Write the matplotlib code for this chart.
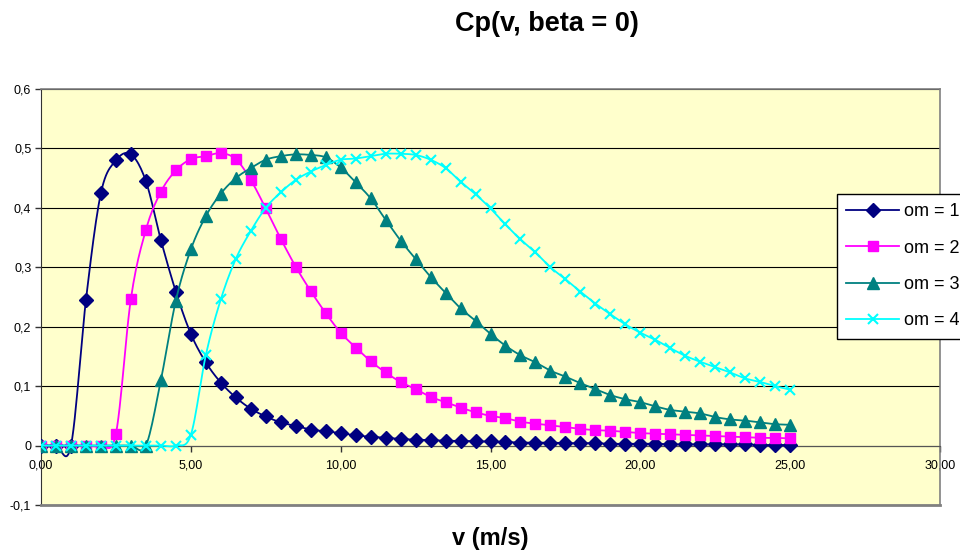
import numpy as np
import matplotlib
matplotlib.use("Agg")
import matplotlib.pyplot as plt
from matplotlib.lines import Line2D

plt.rcParams['font.family'] = ['Liberation Sans', 'DejaVu Sans']

# wind speed (m/s)
v = [0.0, 0.5, 1.0, 1.5, 2.0, 2.5, 3.0, 3.5, 4.0, 4.5,
     5.0, 5.5, 6.0, 6.5, 7.0, 7.5, 8.0, 8.5, 9.0, 9.5,
     10.0, 10.5, 11.0, 11.5, 12.0, 12.5, 13.0, 13.5, 14.0, 14.5,
     15.0, 15.5, 16.0, 16.5, 17.0, 17.5, 18.0, 18.5, 19.0, 19.5,
     20.0, 20.5, 21.0, 21.5, 22.0, 22.5, 23.0, 23.5, 24.0, 24.5,
     25.0]

cp_om1 = [0, 0, 0, 0.245, 0.425, 0.480, 0.490, 0.445, 0.346, 0.259,
          0.188, 0.140, 0.106, 0.081, 0.062, 0.049, 0.039, 0.033, 0.027, 0.024,
          0.021, 0.017, 0.015, 0.013, 0.011, 0.010, 0.009, 0.008, 0.008, 0.007,
          0.007, 0.006, 0.005, 0.005, 0.005, 0.004, 0.004, 0.004, 0.003, 0.003,
          0.003, 0.003, 0.002, 0.002, 0.002, 0.002, 0.002, 0.002, 0.001, 0.001,
          0.001]

cp_om2 = [0, 0, 0, 0, 0, 0.020, 0.247, 0.363, 0.427, 0.463,
          0.482, 0.487, 0.492, 0.482, 0.447, 0.399, 0.348, 0.301, 0.260, 0.223,
          0.190, 0.165, 0.142, 0.123, 0.107, 0.095, 0.082, 0.073, 0.064, 0.056,
          0.050, 0.046, 0.040, 0.037, 0.034, 0.031, 0.028, 0.026, 0.025, 0.023,
          0.021, 0.020, 0.019, 0.018, 0.017, 0.016, 0.015, 0.014, 0.013, 0.013,
          0.012]

cp_om3 = [0, 0, 0, 0, 0, 0, 0, 0, 0.110, 0.244,
          0.330, 0.386, 0.424, 0.450, 0.467, 0.481, 0.487, 0.490, 0.489, 0.485,
          0.468, 0.443, 0.416, 0.380, 0.345, 0.314, 0.284, 0.257, 0.231, 0.210,
          0.188, 0.168, 0.152, 0.140, 0.126, 0.116, 0.105, 0.095, 0.085, 0.078,
          0.073, 0.066, 0.060, 0.057, 0.054, 0.048, 0.044, 0.042, 0.039, 0.036,
          0.035]

cp_om4 = [0, 0, 0, 0, 0, 0, 0, 0, 0, 0,
          0.018, 0.152, 0.246, 0.314, 0.361, 0.400, 0.426, 0.447, 0.461, 0.472,
          0.481, 0.483, 0.487, 0.491, 0.491, 0.489, 0.481, 0.467, 0.444, 0.423,
          0.399, 0.372, 0.347, 0.325, 0.300, 0.280, 0.259, 0.239, 0.221, 0.204,
          0.190, 0.178, 0.164, 0.151, 0.141, 0.132, 0.123, 0.113, 0.107, 0.100,
          0.094]

labels = ['om = 1', 'om = 2', 'om = 3', 'om = 4']
xticks = [0, 5, 10, 15, 20, 25, 30]
yticks = [-0.1, 0, 0.1, 0.2, 0.3, 0.4, 0.5, 0.6]


def suavizar(x, y, n=12):
    # curva tipo "linea suavizada" de Excel (bezier con tension 1/6)
    x = np.asarray(x, float)
    y = np.asarray(y, float)
    px = np.concatenate([[x[0]], x, [x[-1]]])
    py = np.concatenate([[y[0]], y, [y[-1]]])
    t = np.linspace(0, 1, n, endpoint=False)
    xs, ys = [], []
    for i in range(len(x) - 1):
        p0 = np.array([px[i], py[i]])
        p1 = np.array([px[i + 1], py[i + 1]])
        p2 = np.array([px[i + 2], py[i + 2]])
        p3 = np.array([px[i + 3], py[i + 3]])
        c1 = p1 + (p2 - p0) / 6
        c2 = p2 - (p3 - p1) / 6
        b = ((1 - t) ** 3)[:, None] * p1 + (3 * (1 - t) ** 2 * t)[:, None] * c1 \
            + (3 * (1 - t) * t ** 2)[:, None] * c2 + (t ** 3)[:, None] * p2
        xs.extend(b[:, 0])
        ys.extend(b[:, 1])
    xs.append(x[-1])
    ys.append(y[-1])
    return np.array(xs), np.array(ys), list(range(0, len(xs), n))


fig = plt.figure(figsize=(9.6, 5.51), dpi=100)
ax = fig.add_axes([41 / 960, 46 / 551, 899 / 960, 416 / 551])
ax.set_facecolor('#FFFFCC')

estilos = [
    dict(color='#000080', marker='D', markersize=7),
    dict(color='#FF00FF', marker='s', markersize=6.5),
    dict(color='#008080', marker='^', markersize=8),
    dict(color='#00FFFF', marker='x', markersize=7.5, markeredgewidth=1.5),
]

series = [cp_om1, cp_om2, cp_om3, cp_om4]
handles = []
for cp, est, lab in zip(series, estilos, labels):
    xs, ys, cada = suavizar(v, cp)
    ax.plot(xs, ys, color=est['color'], lw=1.3, marker=est['marker'],
            markersize=est['markersize'], markevery=cada,
            markerfacecolor=est['color'], markeredgecolor=est['color'],
            markeredgewidth=est.get('markeredgewidth', 1), zorder=3)
    handles.append(Line2D([], [], color=est['color'], lw=1.3, marker=est['marker'],
                          markersize=est['markersize'],
                          markerfacecolor=est['color'], markeredgecolor=est['color'],
                          markeredgewidth=est.get('markeredgewidth', 1), label=lab))

ax.set_xlim(0, 30)
ax.set_ylim(-0.1, 0.6)
ax.set_xticks(xticks)
ax.set_yticks(yticks)
ax.set_xticklabels([('%.2f' % t).replace('.', ',') for t in xticks])
ax.set_yticklabels(['0' if t == 0 else ('%.1f' % t).replace('.', ',') for t in yticks])

ax.yaxis.grid(True, color='black', lw=0.8)
ax.set_axisbelow(True)

for s in ['top', 'right']:
    ax.spines[s].set_color('#808080')
    ax.spines[s].set_linewidth(1.2)
ax.spines['left'].set_color('#333333')
ax.spines['bottom'].set_position(('data', 0))
ax.spines['bottom'].set_color('#555555')
ax.axhline(-0.1, color='#808080', lw=2.0, zorder=4, clip_on=False)

ax.tick_params(axis='both', labelsize=9, length=4, width=1, color='#333333')
ax.tick_params(axis='x', pad=6)
ax.tick_params(axis='y', pad=3)

fig.text(547 / 960, 1 - 24 / 551, 'Cp(v, beta = 0)', ha='center', va='center',
         fontsize=19.5, fontweight='bold')
fig.text(490 / 960, 1 - 539 / 551, 'v (m/s)', ha='center', va='center',
         fontsize=17, fontweight='bold')

leg = fig.legend(handles=handles, loc='upper left',
                 bbox_to_anchor=(837 / 960, 1 - 194 / 551), borderaxespad=0,
                 fontsize=13, numpoints=1, handlelength=2.9, handletextpad=0.3,
                 labelspacing=1.07, borderpad=0.52, fancybox=False, framealpha=1,
                 edgecolor='black')
leg.get_frame().set_linewidth(1.0)

fig.savefig('out.png', dpi=100)
